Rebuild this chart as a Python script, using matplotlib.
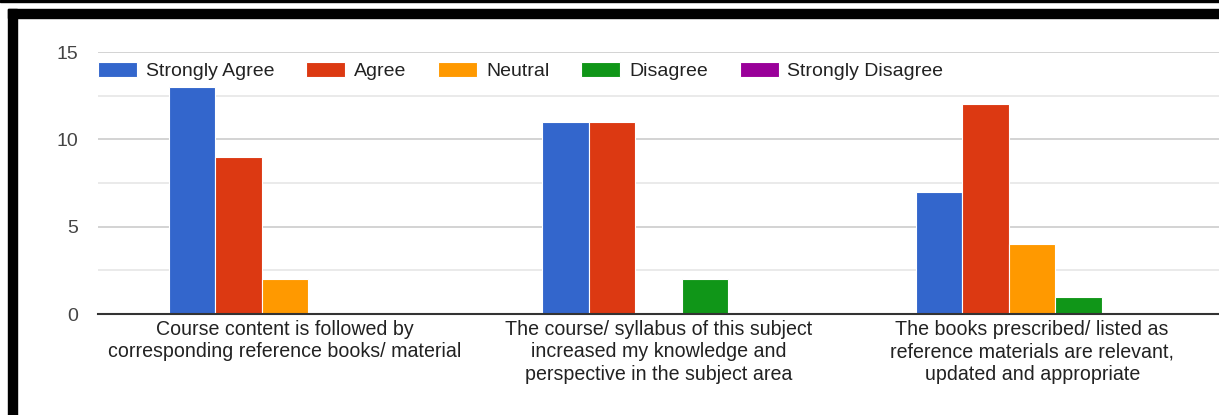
import numpy as np
import matplotlib.pyplot as plt
from matplotlib.patches import Rectangle

plt.rcParams["font.family"] = ["Liberation Sans", "DejaVu Sans"]

categories = [
    "Course content is followed by\ncorresponding reference books/ material",
    "The course/ syllabus of this subject\nincreased my knowledge and\nperspective in the subject area",
    "The books prescribed/ listed as\nreference materials are relevant,\nupdated and appropriate",
]
series_names = ["Strongly Agree", "Agree", "Neutral", "Disagree", "Strongly Disagree"]
strongly_agree = [13, 11, 7]
agree = [9, 11, 12]
neutral = [2, 0, 4]
disagree = [0, 2, 1]
strongly_disagree = [0, 0, 0]
colors = ["#3366cc", "#dc3912", "#ff9900", "#109618", "#990099"]

values = [strongly_agree, agree, neutral, disagree, strongly_disagree]

fig = plt.figure(figsize=(12.19, 4.15), dpi=100)
ax = fig.add_axes([98 / 1219, 1 - 314 / 415, 1 - 98 / 1219, (314 - 52) / 415])

x = np.arange(len(categories))
w = 0.1245
for i, (name, vals, c) in enumerate(zip(series_names, values, colors)):
    ax.bar(x + (i - 2) * w, vals, width=w, color=c, edgecolor="white",
           linewidth=0.8, label=name, zorder=3)

ax.set_xlim(-0.5, 2.5)
ax.set_ylim(0, 15)
ax.set_yticks([0, 5, 10, 15])
ax.set_yticks([2.5, 7.5, 12.5], minor=True)
ax.grid(axis="y", which="major", color="#cccccc", linewidth=1.2, zorder=0)
ax.grid(axis="y", which="minor", color="#e6e6e6", linewidth=1.2, zorder=0)
ax.tick_params(axis="y", which="both", length=0, pad=14, labelsize=14,
               labelcolor="#444444")
ax.set_xticks(x)
ax.set_xticklabels(categories, fontsize=14.1, color="#222222", linespacing=1.24)
ax.tick_params(axis="x", length=0, pad=4)
for s in ["top", "right", "left"]:
    ax.spines[s].set_visible(False)
ax.spines["bottom"].set_color("#333333")
ax.spines["bottom"].set_linewidth(1.5)
ax.spines["bottom"].set_zorder(4)

fig.legend(loc="center left", bbox_to_anchor=(98 / 1219, 1 - 71 / 415),
           ncol=5, frameon=False, fontsize=14, handlelength=2.0,
           handleheight=0.8, handletextpad=0.45, columnspacing=1.65,
           borderpad=0, borderaxespad=0, labelcolor="#222222")

# black screenshot frame
fig.patches.append(Rectangle((0, 1 - 2.5 / 415), 1, 2.5 / 415,
                             transform=fig.transFigure, color="black"))
fig.patches.append(Rectangle((8 / 1219, 1 - 18 / 415), 1, 9 / 415,
                             transform=fig.transFigure, color="black"))
fig.patches.append(Rectangle((8 / 1219, 0), 9 / 1219, 1 - 9 / 415,
                             transform=fig.transFigure, color="black"))

fig.savefig("out.png", dpi=100)
